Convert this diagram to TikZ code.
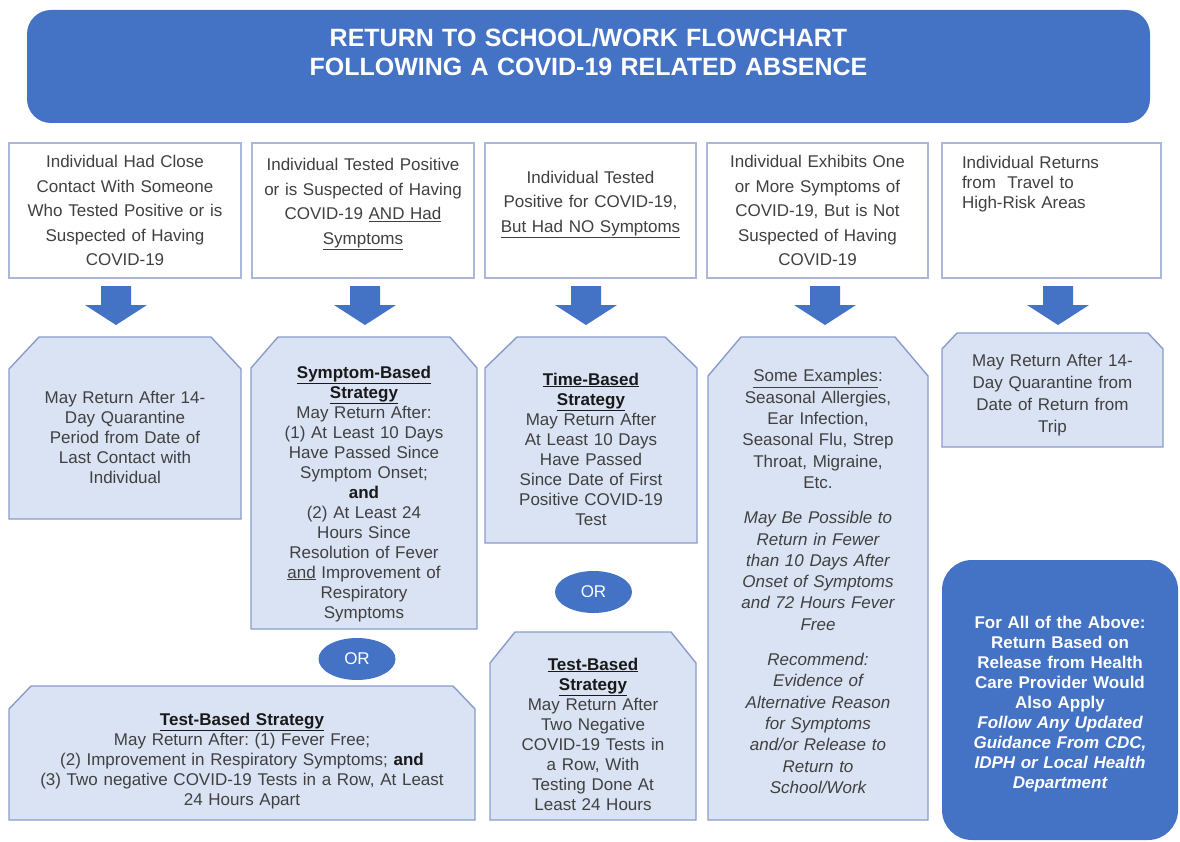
\documentclass[tikz,border=0pt]{standalone}
\usepackage{fontspec}
\setmainfont{Liberation Sans}
\usepackage{tikz}
\usetikzlibrary{backgrounds,shapes.geometric}
\frenchspacing

\definecolor{flowblue}{RGB}{68,114,196}
\definecolor{paleblue}{RGB}{218,227,243}
\definecolor{edgeblue}{RGB}{137,156,204}
\definecolor{lightedge}{RGB}{170,183,214}
\definecolor{inkgray}{RGB}{64,64,64}
\definecolor{headink}{RGB}{25,25,25}

% bold underlined heading inside a result box
\newcommand{\headline}[1]{{\color{headink}\underline{\textbf{#1}}}}

% chamfered outline behind a result node: name, cut in x, cut in y
\newcommand{\cutframe}[3]{%
  \begin{pgfonlayer}{background}
    \path[resultframe] (#1.south west) -- ([yshift=-#3pt]#1.north west)
      -- ([xshift=#2pt]#1.north west) -- ([xshift=-#2pt]#1.north east)
      -- ([yshift=-#3pt]#1.north east) -- (#1.south east) -- cycle;
  \end{pgfonlayer}}

\tikzset{
  startbox/.style={draw=lightedge, line width=1.4pt, fill=white, inner sep=0pt,
    outer sep=0pt, minimum height=135pt, text=inkgray, align=center,
    font=\fontsize{17}{24.5}\selectfont},
  resultbox/.style={inner sep=0pt, outer sep=0pt, text=inkgray, align=center,
    font=\fontsize{17}{20}\selectfont},
  resultframe/.style={draw=edgeblue, line width=1.4pt, fill=paleblue},
  orbubble/.style={ellipse, fill=flowblue, text=white, inner sep=0pt,
    minimum width=77pt, minimum height=42pt, font=\fontsize{17}{20}\selectfont},
  sink/.style={execute at begin node={\rule{0pt}{#1}}},
  lift/.style={execute at end node={\rule[-#1]{0pt}{#1}}},
  blockdown/.pic={\fill[flowblue] (-15,0) -- (15,0) -- (15,19) -- (31,19)
    -- (0,39) -- (-31,19) -- (-15,19) -- cycle;}
}

\begin{document}
\begin{tikzpicture}[x=1pt, y=-1pt]
  \useasboundingbox (0,0) rectangle (1180,842);

  % Title banner
  \node[fill=flowblue, rounded corners=24pt, minimum width=1123pt, minimum height=113pt,
        text width=1000pt, inner sep=0pt, align=center, text=white,
        font=\bfseries\fontsize{25}{29}\selectfont, lift=30pt] (title) at (588.5,66.5)
    {RETURN TO SCHOOL/WORK FLOWCHART\\FOLLOWING A COVID-19 RELATED ABSENCE};

  % Starting situations
  \node[startbox, minimum width=232pt, text width=222pt] (contact) at (125,210.5)
    {Individual Had Close\\Contact With Someone\\Who Tested Positive or is\\Suspected of Having\\COVID-19};
  \node[startbox, minimum width=222pt, text width=212pt, lift=18pt] (sympos) at (363,210.5)
    {Individual Tested Positive\\or is Suspected of Having\\COVID-19 \underline{AND Had}\\\underline{Symptoms}};
  \node[startbox, minimum width=211pt, text width=201pt, lift=18pt] (nosym) at (590.5,210.5)
    {Individual Tested\\Positive for COVID-19,\\\underline{But Had NO Symptoms}};
  \node[startbox, minimum width=221pt, text width=211pt] (othersym) at (817.5,210.5)
    {Individual Exhibits One\\or More Symptoms of\\COVID-19, But is Not\\Suspected of Having\\COVID-19};
  \node[startbox, minimum width=219pt, text width=179pt, align=left,
        font=\fontsize{17}{20}\selectfont, lift=57pt] (travel) at (1051.5,210.5)
    {Individual Returns\\from~~Travel to\\High-Risk Areas};

  % Block arrows under each situation
  \path (contact.south) ++(-9,8) pic {blockdown};
  \path (sympos.south) ++(2,8) pic {blockdown};
  \path (nosym.south) ++(-4.5,8) pic {blockdown};
  \path (othersym.south) ++(7.5,8) pic {blockdown};
  \path (travel.south) ++(6.5,8) pic {blockdown};

  % Close contact
  \node[resultbox, minimum width=232pt, minimum height=182pt, text width=220pt, sink=30.3pt]
    (quarantine) at (125,428)
    {May Return After 14-\\Day Quarantine\\Period from Date of\\Last Contact with\\Individual};
  \cutframe{quarantine}{30}{32}

  % Positive with symptoms
  \node[resultbox, minimum width=226pt, minimum height=292pt, text width=214pt, sink=33.6pt]
    (symbased) at (364,483)
    {\headline{Symptom-Based}\\\headline{Strategy}\\May Return After:\\(1) At Least 10 Days\\
     Have Passed Since\\Symptom Onset;\\{\color{headink}\textbf{and}}\\(2) At Least 24\\Hours Since\\
     Resolution of Fever\\\underline{and} Improvement of\\Respiratory\\Symptoms};
  \cutframe{symbased}{27}{31}

  \node[orbubble] (orsym) at (357,659) {OR};

  \node[resultbox, minimum width=466pt, minimum height=134pt, text width=450pt, sink=27.6pt]
    (testsym) at (242,753)
    {\headline{Test-Based Strategy}\\May Return After: (1) Fever Free;\\
     (2) Improvement in Respiratory Symptoms; {\color{headink}\textbf{and}}\\
     (3) Two negative COVID-19 Tests in a Row, At Least\\24 Hours Apart};
  \cutframe{testsym}{22}{23}

  % Positive without symptoms
  \node[resultbox, minimum width=212pt, minimum height=206pt, text width=200pt, sink=30.3pt]
    (timebased) at (591,440)
    {\headline{Time-Based}\\\headline{Strategy}\\May Return After\\At Least 10 Days\\Have Passed\\
     Since Date of First\\Positive COVID-19\\Test};
  \cutframe{timebased}{32}{31}

  \node[orbubble] (ornosym) at (593.5,592) {OR};

  \node[resultbox, minimum width=206pt, minimum height=188pt, text width=196pt, sink=28.3pt]
    (testnosym) at (593,726)
    {\headline{Test-Based}\\\headline{Strategy}\\May Return After\\Two Negative\\COVID-19 Tests in\\
     a Row, With\\Testing Done At\\Least 24 Hours};
  \cutframe{testnosym}{25}{31}

  % Other symptoms
  \node[resultbox, minimum width=220pt, minimum height=483pt, text width=208pt,
        font=\fontsize{17}{21.3}\selectfont, sink=18.5pt] (examples) at (818,578.5)
    {\underline{Some Examples}:\\Seasonal Allergies,\\Ear Infection,\\Seasonal Flu, Strep\\
     Throat, Migraine,\\Etc.\\[14pt]
     {\itshape May Be Possible to\\Return in Fewer\\than 10 Days After\\Onset of Symptoms\\
     and 72 Hours Fever\\Free\\[14pt]
     Recommend:\\Evidence of\\Alternative Reason\\for Symptoms\\and/or Release to\\
     Return to\\School/Work}};
  \cutframe{examples}{33}{39}

  % Travel
  \node[resultbox, minimum width=221pt, minimum height=114pt, text width=209pt,
        font=\fontsize{17}{21.7}\selectfont, sink=22.6pt] (tripquar) at (1052.5,390)
    {May Return After 14-\\Day Quarantine from\\Date of Return from\\Trip};
  \cutframe{tripquar}{15}{16}

  % Note for all cases
  \node[fill=flowblue, rounded corners=30pt, minimum width=236pt, minimum height=280pt,
        text width=224pt, inner sep=0pt, align=center, text=white,
        font=\bfseries\fontsize{17}{20}\selectfont, sink=19.6pt] (allabove) at (1060,700)
    {For All of the Above:\\Return Based on\\Release from Health\\Care Provider Would\\Also Apply\\
     {\itshape Follow Any Updated\\Guidance From CDC,\\IDPH or Local Health\\Department}};

\end{tikzpicture}
\end{document}
